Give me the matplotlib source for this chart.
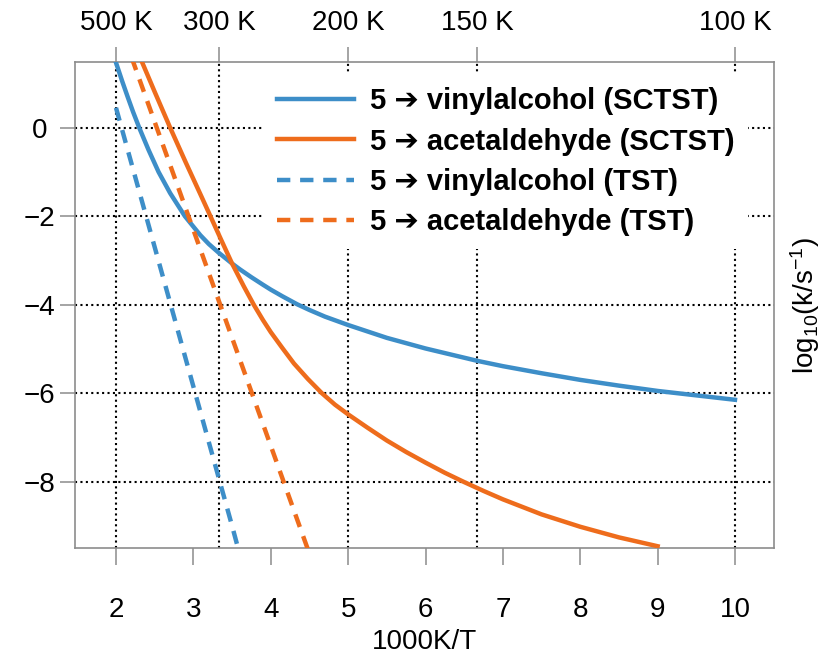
import numpy as np
import matplotlib
matplotlib.use("Agg")
import matplotlib.pyplot as plt
from matplotlib.lines import Line2D

plt.rcParams['font.family'] = ['Liberation Sans', 'DejaVu Sans']
plt.rcParams['axes.unicode_minus'] = True

# 1000K/T and log10(k / s^-1) for each pathway
x_vinyl_sctst = [2.0, 2.08, 2.15, 2.22, 2.3, 2.42, 2.55, 2.7, 2.89, 3.09, 3.2, 3.33,
                 3.5, 3.6, 3.75, 3.9, 4.0, 4.15, 4.34, 4.5, 4.7, 5.0, 5.5, 6.0, 6.67,
                 7.0, 7.5, 8.0, 8.5, 9.0, 9.5, 10.0]
y_vinyl_sctst = [1.47, 1.05, 0.70, 0.36, 0.0, -0.50, -1.0, -1.48, -2.0, -2.43, -2.63, -2.83,
                 -3.07, -3.2, -3.38, -3.55, -3.66, -3.81, -3.99, -4.12, -4.27, -4.46, -4.75,
                 -4.99, -5.27, -5.39, -5.55, -5.70, -5.83, -5.95, -6.05, -6.15]

x_acet_sctst = [2.0, 2.15, 2.33, 2.5, 2.7, 2.9, 3.1, 3.22, 3.35, 3.5, 3.65, 3.78, 3.9,
                4.0, 4.15, 4.3, 4.48, 4.66, 4.83, 5.0, 5.25, 5.5, 5.75, 6.0, 6.25, 6.5,
                6.75, 7.0, 7.5, 8.0, 8.5, 9.0]
y_acet_sctst = [2.93, 2.28, 1.51, 0.81, 0.0, -0.78, -1.54, -2.0, -2.5, -3.07, -3.58, -4.0,
                -4.35, -4.62, -4.98, -5.33, -5.68, -6.0, -6.26, -6.48, -6.78, -7.07, -7.33,
                -7.57, -7.80, -8.01, -8.21, -8.40, -8.74, -9.02, -9.26, -9.46]

x_vinyl_tst = [2.0, 2.5, 3.0, 3.5, 3.6]
y_vinyl_tst = [0.45, -2.7, -5.85, -9.0, -9.65]

x_acet_tst = [2.0, 2.5, 3.0, 3.5, 4.0, 4.5]
y_acet_tst = [2.57, 0.13, -2.31, -4.75, -7.19, -9.63]

labels = ['5 \u2794 vinylalcohol (SCTST)', '5 \u2794 acetaldehyde (SCTST)',
          '5 \u2794 vinylalcohol (TST)', '5 \u2794 acetaldehyde (TST)']

temps_K = [500, 300, 200, 150, 100]
x_ticks = [2, 3, 4, 5, 6, 7, 8, 9, 10]
y_ticks = [0, -2, -4, -6, -8]

BLUE = '#3d8ec8'
ORANGE = '#ee6c1c'
FRAME = '#8c8c8c'
LW = 3.2
DASH = (3.0, 2.2)
DOT = (0, (1, 1.6))

fig = plt.figure(figsize=(8.23, 6.6), dpi=100)
ax = fig.add_axes([75 / 823, 1 - 548 / 660, (774 - 75) / 823, (548 - 62) / 660])
ax.set_xlim(1.47, 10.504)
ax.set_ylim(-9.5, 1.485)

# dotted reference grid at the temperature ticks and the rate ticks
for t in temps_K:
    ax.axvline(1000 / t, color='k', ls=DOT, lw=1.5, zorder=1)
for yv in y_ticks:
    ax.axhline(yv, color='k', ls=DOT, lw=1.5, zorder=1)

ax.plot(x_vinyl_sctst, y_vinyl_sctst, color=BLUE, lw=LW, zorder=3)
ax.plot(x_acet_sctst, y_acet_sctst, color=ORANGE, lw=LW, zorder=3)
ax.plot(x_vinyl_tst, y_vinyl_tst, color=BLUE, lw=LW, dashes=DASH, zorder=3)
ax.plot(x_acet_tst, y_acet_tst, color=ORANGE, lw=LW, dashes=DASH, zorder=3)

for s in ax.spines.values():
    s.set_color(FRAME)
    s.set_linewidth(1.2)

ax.set_xticks(x_ticks)
ax.set_xticklabels([str(v) for v in x_ticks])
ax.tick_params(axis='x', direction='out', length=12.5, width=1.1, color=FRAME,
               pad=23, labelsize=20)
ax.set_yticks(y_ticks)
ax.set_yticklabels([f'{v:d}'.replace('-', '\u2212') for v in y_ticks])
ax.tick_params(axis='y', direction='out', length=10.8, width=1.1, color=FRAME,
               pad=15, labelsize=20)
for lbl in ax.get_yticklabels():
    lbl.set_ha('center')

ax.set_xlabel('1000K/T', fontsize=20, labelpad=4)
ax.yaxis.set_label_position('right')
ax.set_ylabel(r'$\mathregular{log_{10}(k/s^{-1})}$', fontsize=20, labelpad=10)

# temperature scale along the top
top = ax.twiny()
top.set_xlim(ax.get_xlim())
top.set_xticks([1000 / t for t in temps_K])
top.set_xticklabels([f'{t} K' for t in temps_K])
top.tick_params(axis='x', direction='out', length=10.8, width=1.1, color=FRAME,
                pad=8, labelsize=20)
for s in top.spines.values():
    s.set_visible(False)

handles = [Line2D([], [], color=BLUE, lw=LW),
           Line2D([], [], color=ORANGE, lw=LW),
           Line2D([], [], color=BLUE, lw=LW, dashes=DASH),
           Line2D([], [], color=ORANGE, lw=LW, dashes=DASH)]
leg = ax.legend(handles, labels, loc='upper left', bbox_to_anchor=(0.27, 0.975),
                frameon=True, framealpha=1.0, edgecolor='none', facecolor='white',
                fancybox=False, prop={'weight': 'bold', 'size': 21},
                handlelength=2.65, handletextpad=0.55, labelspacing=0.42,
                borderpad=0.45, borderaxespad=0.0)
leg.set_zorder(5)

fig.savefig('out.png', dpi=100)
